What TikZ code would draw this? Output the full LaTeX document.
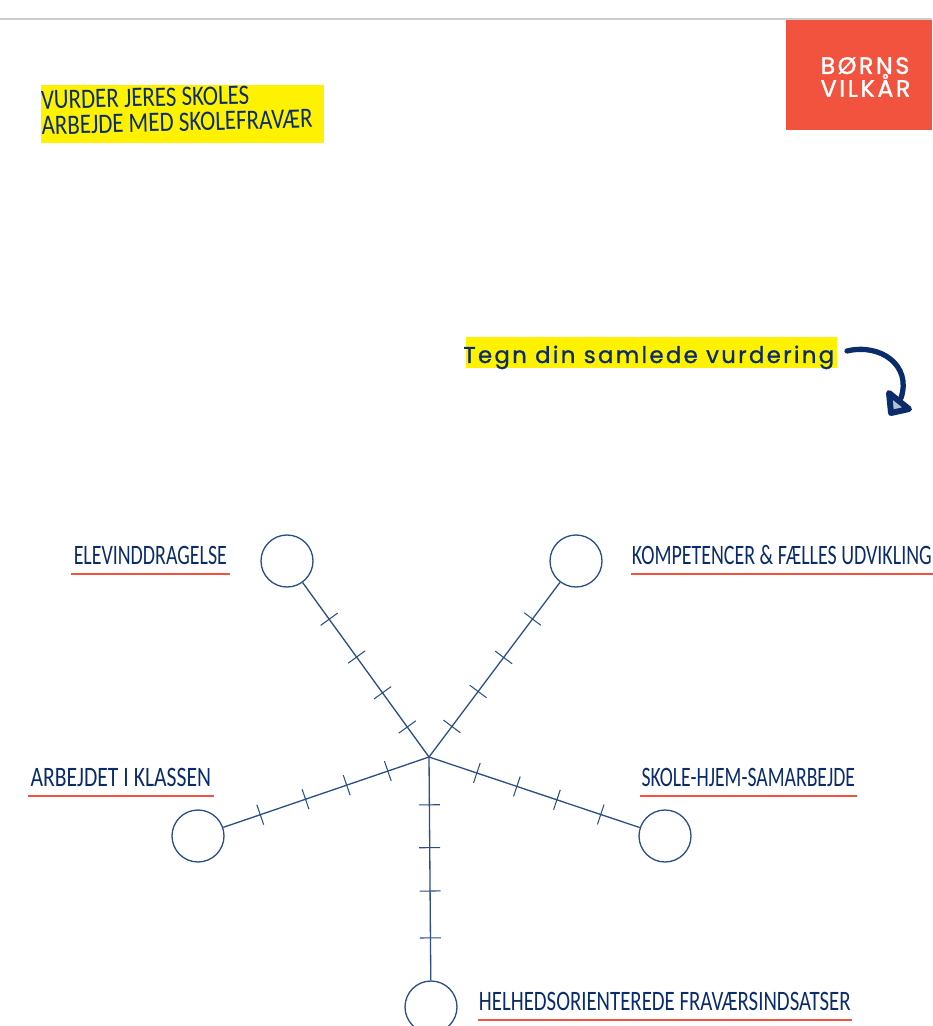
\documentclass[tikz,border=0pt]{standalone}
\usepackage{fontspec}
\setmainfont{Carlito}
\newfontfamily\logofont[LetterSpace=11,FakeBold=1.5]{Poppins}
\newfontfamily\notefont[LetterSpace=10,FakeBold=1]{Poppins}
\setlength{\lineskiplimit}{-8pt}
\definecolor{inkblue}{HTML}{0B2C6B}
\definecolor{spokeblue}{HTML}{2A4F85}
\definecolor{markyellow}{HTML}{FFF200}
\definecolor{logored}{HTML}{F2533F}
\tikzset{axislabel/.style={anchor=south west,inner xsep=0pt,inner ysep=5pt,text=inkblue,align=center,
    font=\fontsize{16}{16}\selectfont\addfontfeature{FakeStretch=#1}}}
\begin{document}
\begin{tikzpicture}[x=0.02cm,y=-0.02cm]
    \tikzstyle{endcircle}=[circle,draw=spokeblue,line width=0.75pt,minimum size=1.04cm,inner sep=0pt]
    \tikzstyle{spoke}=[draw=spokeblue,line width=0.75pt]
    \tikzstyle{tickmark}=[draw=spokeblue,line width=0.6pt,rectangle,minimum width=0pt,minimum height=0.42cm,inner sep=0pt,sloped]
    \tikzstyle{underline}=[draw=logored,line width=1pt]
    \useasboundingbox (0,0) rectangle (932,1026);

    \draw[draw=black!20, line width=0.7pt] (0,19) -- (932,19);
    \fill[logored] (786,20) rectangle (932,130);
    \node[text=white, font=\logofont\fontsize{13.5}{13}\selectfont, align=left] (logo) at (865.5,77) {BØRNS\\VILKÅR};

    \fill[markyellow] (41,85)   rectangle (324,143);
    \fill[markyellow] (466,337) rectangle (837,368);
    \node[text=inkblue, font=\fontsize{16}{14.5}\selectfont\addfontfeature{FakeStretch=0.815}, align=left, rotate=1.5, anchor=west, inner sep=0pt] (title) at (41,113)
        {VURDER JERES SKOLES\\ARBEJDE MED SKOLEFRAVÆR};
    \node[text=inkblue, font=\notefont\fontsize{13}{13}\selectfont, anchor=base west, inner sep=0pt] (note) at (463,363) {Tegn din samlede vurdering};

    \coordinate (arrowstart) at (847,351);
    \coordinate (arrowend)   at (901,398);
    \draw[draw=inkblue, line width=3pt, line cap=round] (arrowstart) .. controls (880,343) and (912,365) .. (arrowend);
    \draw[draw=inkblue, fill=inkblue!30, line width=3.4pt, line join=round] (889,393) -- (909,409) -- (891,413) -- cycle;

    \coordinate (hub) at (429,757);
    \node[endcircle] (elev)  at (287,561)  {};
    \node[endcircle] (komp)  at (576,561)  {};
    \node[endcircle] (klass) at (198,836)  {};
    \node[endcircle] (hjem)  at (665,836)  {};
    \node[endcircle] (helhed) at (431,1007) {};

    \draw[spoke] (hub) -- (elev)   \foreach \p in {.172,.368,.573,.79} {node[tickmark,pos=\p] {}};
    \draw[spoke] (hub) -- (komp)   \foreach \p in {.175,.375,.57,.79}  {node[tickmark,pos=\p] {}};
    \draw[spoke] (hub) -- (klass)  \foreach \p in {.2,.4,.6,.82}       {node[tickmark,pos=\p] {}};
    \draw[spoke] (hub) -- (hjem)   \foreach \p in {.227,.417,.607,.815} {node[tickmark,pos=\p] {}};
    \draw[spoke] (hub) -- (helhed) \foreach \p in {.214,.406,.6,.81}   {node[tickmark,pos=\p] {}};

    \node[axislabel=0.708, minimum width=3.16cm] (elevtext)   at (71,574)   {ELEVINDDRAGELSE};
    \node[axislabel=0.71,  minimum width=6.02cm] (komptext)   at (631,574)  {KOMPETENCER \& FÆLLES UDVIKLING};
    \node[axislabel=0.77,  minimum width=3.7cm]  (klasstext)  at (28,796)   {ARBEJDET I KLASSEN};
    \node[axislabel=0.70,  minimum width=4.32cm] (hjemtext)   at (640,796)  {SKOLE-HJEM-SAMARBEJDE};
    \node[axislabel=0.74,  minimum width=7.46cm] (helhedtext) at (478,1020) {HELHEDSORIENTEREDE FRAVÆRSINDSATSER};

    \foreach \lbl in {elevtext,komptext,klasstext,hjemtext,helhedtext}
        \draw[underline] (\lbl.south west) -- (\lbl.south east);

\end{tikzpicture}
\end{document}
